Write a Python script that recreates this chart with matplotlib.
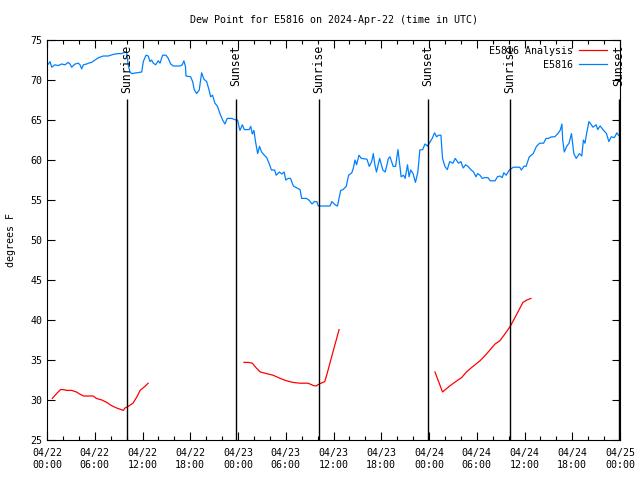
import numpy as np
import matplotlib
matplotlib.use('Agg')
import matplotlib.pyplot as plt

# hours since 2024-04-22 00:00 UTC, dew point in degrees F
obs_hours = [0.17, 0.38, 0.59, 1.0, 1.4, 1.84, 2.26, 2.68, 2.89, 3.1, 3.52, 3.94, 4.15, 4.36, 4.57,
             4.98, 5.2, 5.6, 6.03, 6.5, 7.07, 7.7, 8.33, 8.9, 9.38, 9.59, 10.0, 10.2, 10.43, 10.64,
             11.3, 11.9, 12.1, 12.44, 12.73, 12.94, 13.15, 13.36, 13.65, 13.98, 14.2, 14.53, 14.95,
             15.24, 15.54, 15.87, 16.3, 16.7, 17.0, 17.2, 17.4, 17.46, 18.05, 18.3, 18.5, 18.8,
             19.13, 19.43, 19.72, 20.06, 20.35, 20.56, 20.8, 21.1, 21.4, 21.73, 22.07, 22.36, 22.65,
             23.2, 23.74, 23.95, 24.16, 24.25, 24.54, 24.8, 25.4, 25.6, 25.8, 26.0, 26.2, 26.47,
             26.7, 26.97, 27.3, 27.6, 27.9, 28.2, 28.6, 28.8, 29.2, 29.5, 29.8, 30.0, 30.3, 30.6,
             30.95, 31.4, 31.8, 32.0, 32.6, 32.9, 33.3, 33.6, 33.9, 34.1, 34.8, 35.55, 35.8, 36.2,
             36.5, 36.7, 36.9, 37.2, 37.6, 37.9, 38.3, 38.5, 38.7, 38.9, 39.2, 39.5, 40.2, 40.5,
             40.8, 41.0, 41.2, 41.4, 41.8, 42.2, 42.5, 42.9, 43.1, 43.5, 43.8, 44.1, 44.3, 44.5,
             44.8, 45.0, 45.3, 45.5, 45.7, 46.0, 46.3, 46.6, 46.85, 47.2, 47.5, 47.8, 48.1, 48.4,
             48.7, 48.95, 49.2, 49.5, 49.7, 50.0, 50.3, 50.6, 51.0, 51.3, 51.7, 52.0, 52.3, 52.6,
             52.9, 53.3, 53.6, 53.9, 54.1, 54.4, 54.7, 55.0, 55.4, 55.7, 56.3, 56.6, 56.9, 57.2,
             57.4, 57.7, 58.1, 58.6, 59.4, 59.6, 59.97, 60.2, 60.6, 61.1, 61.5, 61.9, 62.4, 62.7,
             63.0, 63.4, 63.8, 64.2, 64.5, 64.7, 64.8, 65.0, 65.3, 65.6, 65.9, 66.2, 66.5, 66.9,
             67.2, 67.4, 67.6, 67.8, 68.1, 68.4, 68.6, 69.0, 69.2, 69.5, 69.9, 70.3, 70.6, 70.9,
             71.3, 71.6, 71.8]
obs_dewpt = [72.0, 72.3, 71.6, 71.9, 71.8, 72.0, 71.9, 72.2, 72.0, 71.6, 72.0, 72.1, 71.9, 71.4, 71.9,
             72.0, 72.1, 72.2, 72.5, 72.8, 73.0, 73.0, 73.2, 73.3, 73.3, 73.4, 73.5, 71.9, 71.0, 70.8,
             70.9, 71.0, 72.3, 73.1, 73.0, 72.3, 72.5, 72.1, 71.9, 72.4, 72.1, 73.1, 73.1,
             72.7, 72.0, 71.75, 71.75, 71.75, 71.9, 72.4, 71.7, 70.5, 70.4, 69.8, 68.8, 68.3,
             68.75, 70.9, 70.1, 69.8, 68.8, 67.9, 68.1, 67.1, 66.75, 65.8, 65.0, 64.5, 65.2,
             65.2, 65.0, 65.0, 64.0, 63.7, 64.4, 63.8, 63.8, 64.2, 63.25, 63.7, 62.3, 60.8,
             61.7, 61.0, 60.6, 60.3, 59.6, 58.75, 58.75, 58.1, 58.5, 58.25, 58.5, 57.5, 57.7, 57.7,
             56.75, 56.5, 56.3, 55.2, 55.2, 55.0, 54.5, 54.8, 54.8, 54.25, 54.25, 54.25, 54.8, 54.4,
             54.25, 55.2, 56.2, 56.3, 56.7, 58.1, 58.4, 59.0, 60.0, 59.4, 60.6, 60.2, 60.1, 59.2,
             59.8, 60.8, 59.4, 58.5, 60.2, 58.75, 58.5, 60.2, 60.4, 59.2, 59.2, 61.3, 59.6, 57.9,
             58.1, 57.7, 59.4, 57.9, 58.75, 58.3, 57.2, 58.5, 61.25, 61.3, 62.0, 61.75, 62.2, 62.7,
             63.4, 62.9, 63.1, 63.1, 60.2, 59.2, 58.8, 59.8, 59.6, 60.2, 59.6, 59.8, 59.0, 59.4,
             59.2, 58.75, 58.5, 57.9, 58.3, 58.1, 57.7, 57.8, 57.8, 57.4, 57.4, 57.9, 58.0, 57.8,
             58.4, 58.1, 58.75, 59.1, 59.1, 58.75, 59.25, 59.2, 60.4, 60.8, 61.7, 62.1, 62.1, 62.7,
             62.7, 62.9, 62.9, 63.3, 63.75, 64.5, 62.5, 61.0, 61.7, 62.1, 63.3, 60.8, 60.2, 60.8,
             60.5, 62.5, 62.1, 63.3, 64.8, 64.4, 64.1, 64.4, 63.8, 64.25, 63.75, 63.3, 62.3, 62.9,
             62.8, 63.4, 63.1]

# analysis runs (three separate pieces)
ana1_hours = [0.67, 1.2, 1.7, 2.1, 2.47, 3.1, 3.7, 4.1, 4.6, 5.2, 5.8, 6.2, 6.9, 7.5, 8.1, 8.75,
              9.6, 9.8, 10.2, 10.8, 11.3, 11.7, 12.3, 12.7]
ana1_dewpt = [30.2, 30.8, 31.3, 31.3, 31.2, 31.2, 31.0, 30.75, 30.5, 30.5, 30.5, 30.2, 30.0, 29.7,
              29.3, 29.0, 28.7, 29.0, 29.2, 29.6, 30.4, 31.2, 31.7, 32.1]
ana2_hours = [24.75, 25.3, 25.8, 26.3, 26.8, 27.6, 28.4, 29.3, 30.1, 30.9, 31.8, 32.8, 33.5, 33.8,
              34.2, 34.9, 35.2, 35.6, 36.0, 36.4, 36.7]
ana2_dewpt = [34.7, 34.7, 34.6, 34.0, 33.5, 33.3, 33.1, 32.7, 32.4, 32.2, 32.1, 32.1, 31.8, 31.75,
              32.0, 32.3, 33.3, 34.8, 36.25, 37.7, 38.8]
ana3_hours = [48.75, 49.7, 50.6, 51.5, 52.1, 52.7, 53.4, 54.4, 55.0, 55.7, 56.3, 56.9, 57.5, 58.2,
              58.8, 59.3, 59.8, 60.3, 60.8]
ana3_dewpt = [33.5, 31.0, 31.75, 32.4, 32.8, 33.5, 34.1, 34.9, 35.5, 36.3, 37.0, 37.4, 38.2, 39.2,
              40.3, 41.25, 42.2, 42.5, 42.7]

sun_hours = [10.05, 23.74, 34.17, 47.86, 58.17, 71.86]
sun_labels = ['Sunrise', 'Sunset', 'Sunrise', 'Sunset', 'Sunrise', 'Sunset']

tick_hours = list(range(0, 73, 6))
tick_labels = ['04/22\n00:00', '04/22\n06:00', '04/22\n12:00', '04/22\n18:00',
               '04/23\n00:00', '04/23\n06:00', '04/23\n12:00', '04/23\n18:00',
               '04/24\n00:00', '04/24\n06:00', '04/24\n12:00', '04/24\n18:00',
               '04/25\n00:00']

plt.rcParams['font.family'] = 'DejaVu Sans Mono'
plt.rcParams['font.size'] = 7.2

fig = plt.figure(figsize=(6.4, 4.8), dpi=100)
ax = fig.add_axes([47/640, 40/480, 573/640, 400/480])

ax.plot(ana1_hours, ana1_dewpt, color='#ff0000', lw=0.9, label='E5816 Analysis')
ax.plot(ana2_hours, ana2_dewpt, color='#ff0000', lw=0.9)
ax.plot(ana3_hours, ana3_dewpt, color='#ff0000', lw=0.9)
ax.plot(obs_hours, obs_dewpt, color='#0080ff', lw=0.9, label='E5816')

ax.vlines(sun_hours, 25, 67.6, color='black', lw=1.0)
for h, lab in zip(sun_hours, sun_labels):
    ax.text(h, 74.4, lab, rotation=90, ha='center', va='top', fontsize=8.3)

ax.set_xlim(0, 72)
ax.set_ylim(25, 75)
ax.set_xticks(tick_hours)
ax.set_xticklabels(tick_labels)
ax.set_xticks(np.arange(0, 73, 2), minor=True)
ax.set_yticks(np.arange(25, 76, 5))
ax.tick_params(which='both', direction='in', top=True, right=True, width=0.8)
ax.tick_params(which='major', length=6)
ax.tick_params(which='minor', length=3)
ax.tick_params(axis='x', pad=6)

ax.set_ylabel('degrees F', labelpad=10)
ax.set_title('Dew Point for E5816 on 2024-Apr-22 (time in UTC)', fontsize=7.2, pad=12)

ax.legend(loc='upper right', bbox_to_anchor=(0.988, 1.0), frameon=False, markerfirst=False,
          handlelength=2.8, borderaxespad=0.2, labelspacing=0.4, handletextpad=0.6)

fig.savefig('out.png', dpi=100)
